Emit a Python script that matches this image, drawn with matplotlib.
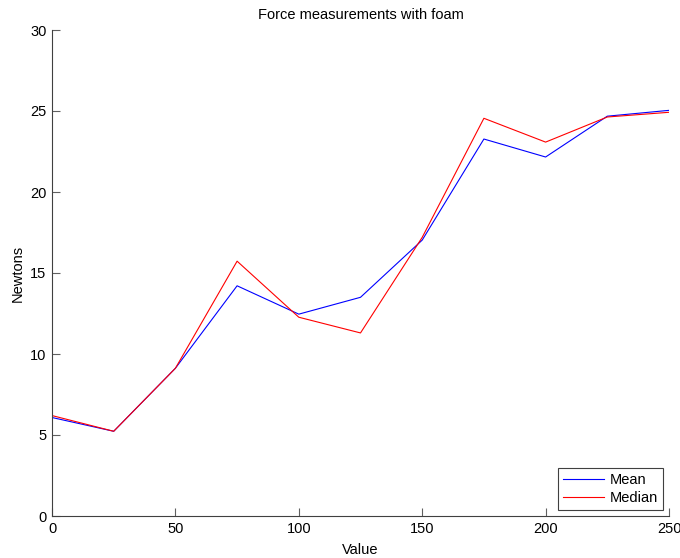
import matplotlib
matplotlib.use("Agg")
import matplotlib.pyplot as plt

x_values = [0, 25, 50, 75, 100, 125, 150, 175, 200, 225, 250]
mean_newtons = [6.08, 5.23, 9.12, 14.21, 12.46, 13.5, 17.03, 23.27, 22.16, 24.68, 25.04]
median_newtons = [6.2, 5.23, 9.12, 15.73, 12.27, 11.3, 17.2, 24.55, 23.08, 24.63, 24.92]
x_ticks = [0, 50, 100, 150, 200, 250]
y_ticks = [0, 5, 10, 15, 20, 25, 30]

plt.rcParams['font.family'] = ['Liberation Sans', 'DejaVu Sans']
fig = plt.figure(figsize=(6.8, 5.58), dpi=100)
ax = fig.add_axes([52/680, 42/558, (669-52)/680, (516-30)/558])

ax.plot(x_values, mean_newtons, color='#0000ff', lw=0.8, label='Mean')
ax.plot(x_values, median_newtons, color='#ff0000', lw=0.8, label='Median')

ax.set_xlim(0, 250)
ax.set_ylim(0, 30)
ax.set_xticks(x_ticks)
ax.set_yticks(y_ticks)
for s in ['top', 'right']:
    ax.spines[s].set_visible(False)
for s in ['left', 'bottom']:
    ax.spines[s].set_color('#404040')
    ax.spines[s].set_linewidth(0.8)
ax.tick_params(direction='in', length=6, width=0.8, color='#606060', labelsize=10.5, pad=4)

ax.set_title('Force measurements with foam', fontsize=10.5, pad=8)
ax.set_xlabel('Value', fontsize=10.5, labelpad=5)
ax.set_ylabel('Newtons', fontsize=10.5, labelpad=4)

leg = ax.legend(loc='lower right', fontsize=10.5, fancybox=False, framealpha=1,
                edgecolor='#404040', handlelength=2.8, borderaxespad=0.4,
                handletextpad=0.4, borderpad=0.35, labelspacing=0.3)
leg.get_frame().set_linewidth(0.8)

fig.savefig('out.png', dpi=100)
